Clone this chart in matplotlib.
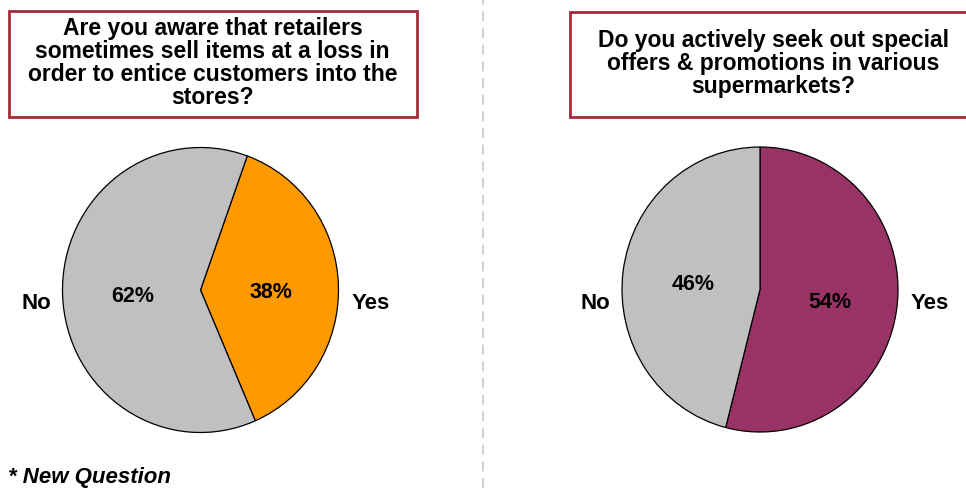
import matplotlib
matplotlib.use("Agg")
import matplotlib.pyplot as plt
from matplotlib.patches import Rectangle
from matplotlib.lines import Line2D

plt.rcParams['font.family'] = ['Liberation Sans', 'DejaVu Sans']

W, H = 966, 488

# survey answers
answers = ['Yes', 'No']
aware_pct = [38, 62]
offers_pct = [54, 46]

aware_colors = ['#ff9900', '#c0c0c0']
offers_colors = ['#993366', '#c0c0c0']

aware_question = ("Are you aware that retailers\nsometimes sell items at a loss in\n"
                  "order to entice customers into the\nstores?")
offers_question = ("Do you actively seek out special\noffers & promotions in various\n"
                   "supermarkets?")

fig = plt.figure(figsize=(W / 100, H / 100), dpi=100)


def px_axes(cx, cy, rx, ry):
    # axes centred on a pixel position (origin top-left)
    return fig.add_axes([(cx - rx) / W, 1 - (cy + ry) / H, 2 * rx / W, 2 * ry / H])


def draw_pie(cx, cy, rx, ry, values, colors, start):
    ax = px_axes(cx, cy, rx, ry)
    _, _, pcts = ax.pie(values, colors=colors, startangle=start, counterclock=False,
                        autopct='%d%%', pctdistance=0.5,
                        wedgeprops=dict(edgecolor='black', linewidth=0.9),
                        textprops=dict(fontsize=15.5, fontweight='bold', color='black'))
    ax.set_xlim(-1, 1)
    ax.set_ylim(-1, 1)
    ax.set_aspect('auto')
    for t in pcts:
        x, y = t.get_position()
        t.set_position((x + 0.01, y - 0.03))
        t.set_clip_on(False)
    ax.text(-1.19, -0.095, answers[1], ha='center', va='center', fontsize=16,
            fontweight='bold', clip_on=False)
    ax.text(1.23, -0.095, answers[0], ha='center', va='center', fontsize=16,
            fontweight='bold', clip_on=False)
    return ax


def question_box(x0, y0, x1, y1, text, tx):
    fig.patches.append(Rectangle((x0 / W, 1 - y1 / H), (x1 - x0) / W, (y1 - y0) / H,
                                 transform=fig.transFigure, facecolor='white',
                                 edgecolor='#a8293a', linewidth=2))
    fig.text(tx / W, 1 - (y0 + y1) / 2 / H + 1 / H, text, ha='center', va='center',
             fontsize=16.5, fontweight='bold', linespacing=1.0)


draw_pie(200.5, 290, 138, 142.5, aware_pct, aware_colors, 70.2)
draw_pie(760, 289.5, 138, 142.5, offers_pct, offers_colors, 90)

question_box(9, 11, 417, 117, aware_question, 212.5)
question_box(570, 12, 980, 117, offers_question, 773)

fig.lines.append(Line2D([483.5 / W, 483.5 / W], [0, 1], transform=fig.transFigure,
                        color='#c8c8c8', linewidth=1.2, linestyle=(0, (6, 4))))

fig.text(8 / W, 1 - 477 / H, '* New Question', ha='left', va='center',
         fontsize=16, fontweight='bold', fontstyle='italic')

fig.savefig('out.png', dpi=100)
